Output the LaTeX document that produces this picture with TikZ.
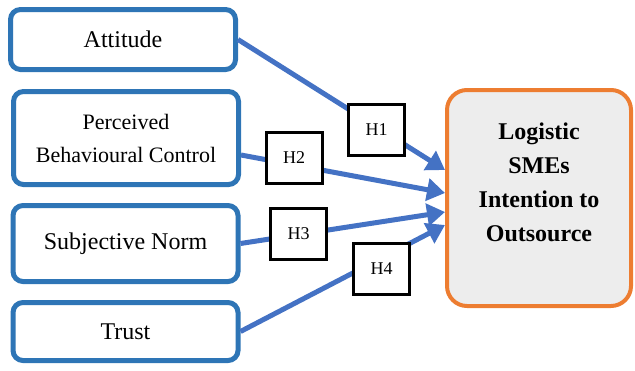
\documentclass[tikz,border=0pt]{standalone}
\usepackage{fontspec}
\setmainfont{LiberationSerif}[Extension=.ttf,UprightFont=*-Regular,BoldFont=*-Bold,ItalicFont=*-Italic]
\usetikzlibrary{positioning}
\usetikzlibrary{arrows.meta}
\definecolor{boxblue}{HTML}{2E75B6}
\definecolor{linkblue}{HTML}{4472C4}
\definecolor{outorange}{HTML}{ED7D31}
\definecolor{outgray}{HTML}{EDEDED}
\tikzset{factor/.style={draw=boxblue,line width=2.5pt,rounded corners=5pt,fill=white,minimum width=112.5pt,align=center,font=\fontsize{12}{16.5}\selectfont},
	hyp/.style={draw=black,line width=1.5pt,fill=white,minimum width=28pt,minimum height=25.5pt,inner sep=0pt,font=\fontsize{9}{11}\selectfont},
	link/.style={draw=linkblue,line width=2.5pt,-{Triangle[length=9pt,width=11pt]}}}

\begin{document}
\begin{tikzpicture}[x=0.5pt,y=-0.5pt]
	\useasboundingbox (0,0) rectangle (635,370);
	\node[factor,minimum height=30pt] (att) at (123,39.5) {Attitude};
	\node[factor,minimum height=46.5pt,font=\fontsize{11}{16.5}\selectfont] (pbc) at (126,138) {Perceived\\Behavioural Control};
	\node[factor,minimum height=38pt] (sn) at (125.5,243.5) {Subjective Norm};
	\node[factor,minimum height=29pt] (trust) at (125.5,331.5) {Trust};
	\node[draw=outorange,line width=2pt,fill=outgray,rounded corners=10pt,minimum width=92pt,minimum height=108pt,align=center,text depth=16pt,font=\fontsize{12}{17}\selectfont\bfseries] (out) at (539,198) {Logistic\\SMEs\\Intention to\\Outsource};
	% hypothesis paths
	\draw[link] (att.east) -- ([yshift=14pt]out.west);
	\draw[link] ([yshift=-8.5pt]pbc.east) -- ([yshift=2.5pt]out.west);
	\draw[link] (sn.east) -- ([yshift=-7pt]out.west);
	\draw[link] (trust.east) -- ([yshift=-13.5pt]out.west);
	\node[hyp] (h1) at (376.5,130) {H1};
	\node[hyp] (h2) at (294,157.5) {H2};
	\node[hyp] (h3) at (298.5,234) {H3};
	\node[hyp] (h4) at (381.5,268.5) {H4};
\end{tikzpicture}
\end{document}
